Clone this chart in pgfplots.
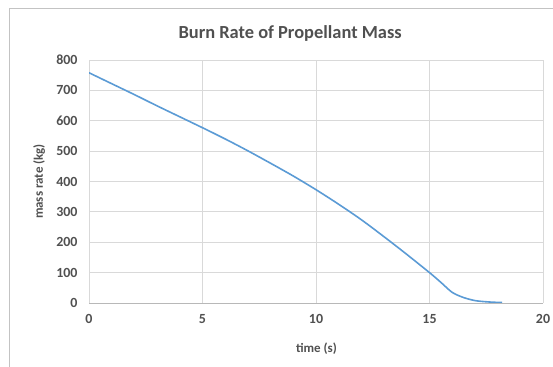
\documentclass[border=0pt]{standalone}
\usepackage{pgfplots}
\pgfplotsset{compat=1.18}
\usepackage{fontspec}
\setmainfont{Carlito}
\definecolor{txt}{HTML}{505050}
\definecolor{grd}{HTML}{D9D9D9}
\definecolor{ln}{HTML}{5B9BD5}
\begin{document}
\begin{tikzpicture}
\useasboundingbox (0bp,0bp) rectangle (553bp,367bp);
\draw[color=grd!90!black, line width=0.8bp] (9bp,0bp) -- (9bp,359bp) -- (553bp,359bp);
\begin{axis}[
  at={(89bp,64bp)}, anchor=south west,
  scale only axis, width=454bp, height=243bp,
  xmin=0, xmax=20, ymin=0, ymax=800,
  xtick={0,5,10,15,20}, ytick={0,100,...,800},
  grid=major, major grid style={color=grd, line width=0.8bp},
  axis line style={draw=none},
  axis x line*=bottom, axis y line*=left,
  x axis line style={draw=grd!85!black, line width=0.8bp},
  tick style={draw=none},
  tick label style={font=\fontsize{14}{16}\selectfont\bfseries, text=txt},
  /pgf/number format/assume math mode=true,
  xticklabel style={yshift=-8bp},
  yticklabel style={xshift=-8bp},
  title={Burn Rate of Propellant Mass},
  title style={font=\fontsize{18.5}{22}\selectfont\bfseries, text=txt, at={(rel axis cs:0.443,1)}, anchor=base, yshift=16bp},
  xlabel={time (s)},
  xlabel style={font=\fontsize{13}{15}\selectfont\bfseries, text=txt, at={(rel axis cs:0.501,0)}, anchor=base, yshift=-49bp},
  ylabel={mass rate (kg)},
  ylabel style={font=\fontsize{13}{15}\selectfont\bfseries, text=txt, at={(rel axis cs:0,0.5)}, anchor=base, rotate=0, xshift=0bp, yshift=46bp},
]
\addplot[color=ln, line width=1.6bp, smooth, tension=0.5] coordinates {
(0,758) (1,722) (2,686) (3,649) (4,613) (5,577) (6,540) (7,501) (8,460) (9,418)
(10,373) (11,325) (12,274) (13,218) (14,160) (15,100) (15.5,68) (16,35) (16.5,18)
(17,8) (17.5,4) (18,2) (18.2,2)
};
\end{axis}
\end{tikzpicture}
\end{document}
